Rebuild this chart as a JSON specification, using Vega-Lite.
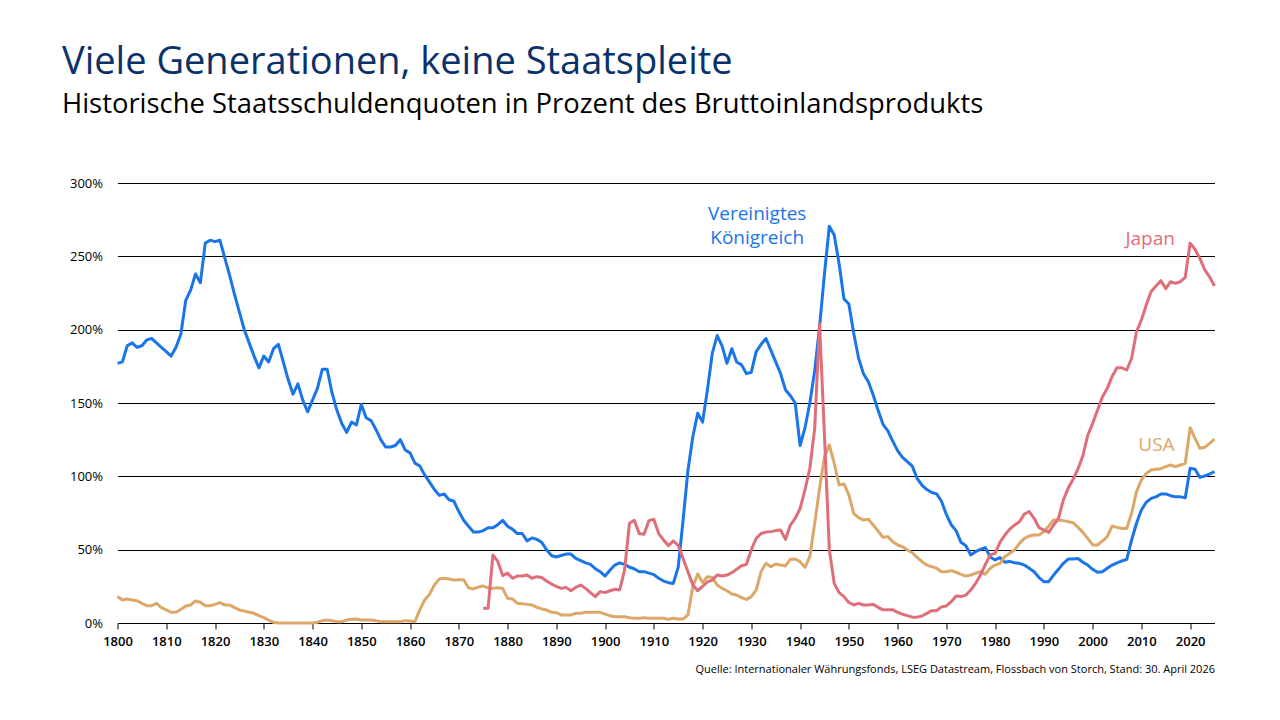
{
  "$schema": "https://vega.github.io/schema/vega-lite/v6.json",
  "autosize": "none",
  "width": 1097,
  "height": 440,
  "padding": {"left": 117.5, "top": 183, "right": 65.5, "bottom": 97},
  "background": "white",
  "title": {
    "text": "Viele Generationen, keine Staatspleite",
    "subtitle": "Historische Staatsschuldenquoten in Prozent des Bruttoinlandsprodukts",
    "anchor": "start",
    "frame": "group",
    "dx": -55.5,
    "offset": 59,
    "font": "Open Sans",
    "fontSize": 38,
    "fontWeight": "normal",
    "color": "#0b316b",
    "subtitleFont": "Open Sans",
    "subtitleFontSize": 27.4,
    "subtitleColor": "#000000",
    "subtitlePadding": 9
  },
  "datasets": {
    "uk": [
      {"year":1800,"value":177},{"year":1801,"value":178},{"year":1802,"value":189},{"year":1803,"value":191},{"year":1804,"value":188},{"year":1805,"value":189},{"year":1806,"value":193},{"year":1807,"value":194},{"year":1808,"value":191},{"year":1809,"value":188},
      {"year":1810,"value":185},{"year":1811,"value":182},{"year":1812,"value":188},{"year":1813,"value":197},{"year":1814,"value":220},{"year":1815,"value":227},{"year":1816,"value":238},{"year":1817,"value":232},{"year":1818,"value":259},{"year":1819,"value":261},
      {"year":1820,"value":260},{"year":1821,"value":261},{"year":1822,"value":249},{"year":1823,"value":237},{"year":1824,"value":224},{"year":1825,"value":212},{"year":1826,"value":200},{"year":1827,"value":191},{"year":1828,"value":182},{"year":1829,"value":174},
      {"year":1830,"value":182},{"year":1831,"value":178},{"year":1832,"value":187},{"year":1833,"value":190},{"year":1834,"value":178},{"year":1835,"value":166},{"year":1836,"value":156},{"year":1837,"value":163},{"year":1838,"value":152},{"year":1839,"value":144},
      {"year":1840,"value":152},{"year":1841,"value":160},{"year":1842,"value":173},{"year":1843,"value":173},{"year":1844,"value":157},{"year":1845,"value":145},{"year":1846,"value":136},{"year":1847,"value":130},{"year":1848,"value":137},{"year":1849,"value":135},
      {"year":1850,"value":149},{"year":1851,"value":140},{"year":1852,"value":138},{"year":1853,"value":132},{"year":1854,"value":125},{"year":1855,"value":120},{"year":1856,"value":120},{"year":1857,"value":121},{"year":1858,"value":125},{"year":1859,"value":118},
      {"year":1860,"value":116},{"year":1861,"value":109},{"year":1862,"value":107},{"year":1863,"value":101},{"year":1864,"value":96},{"year":1865,"value":91},{"year":1866,"value":87},{"year":1867,"value":88},{"year":1868,"value":84},{"year":1869,"value":83},
      {"year":1870,"value":76},{"year":1871,"value":70},{"year":1872,"value":66},{"year":1873,"value":62},{"year":1874,"value":62},{"year":1875,"value":63},{"year":1876,"value":65},{"year":1877,"value":65},{"year":1878,"value":67},{"year":1879,"value":70},
      {"year":1880,"value":66},{"year":1881,"value":64},{"year":1882,"value":61},{"year":1883,"value":61},{"year":1884,"value":56},{"year":1885,"value":58},{"year":1886,"value":57},{"year":1887,"value":55},{"year":1888,"value":50},{"year":1889,"value":46},
      {"year":1890,"value":45},{"year":1891,"value":46},{"year":1892,"value":47},{"year":1893,"value":47},{"year":1894,"value":44},{"year":1895,"value":42.5},{"year":1896,"value":41},{"year":1897,"value":40},{"year":1898,"value":37},{"year":1899,"value":35},
      {"year":1900,"value":32},{"year":1901,"value":36},{"year":1902,"value":39.5},{"year":1903,"value":41},{"year":1904,"value":40},{"year":1905,"value":38},{"year":1906,"value":37},{"year":1907,"value":35},{"year":1908,"value":35},{"year":1909,"value":34},
      {"year":1910,"value":33},{"year":1911,"value":30.5},{"year":1912,"value":28.6},{"year":1913,"value":27.5},{"year":1914,"value":27},{"year":1915,"value":38},{"year":1916,"value":70},{"year":1917,"value":104},{"year":1918,"value":127},{"year":1919,"value":143},
      {"year":1920,"value":137},{"year":1921,"value":159},{"year":1922,"value":184},{"year":1923,"value":196},{"year":1924,"value":189},{"year":1925,"value":177},{"year":1926,"value":187},{"year":1927,"value":178},{"year":1928,"value":176},{"year":1929,"value":170},
      {"year":1930,"value":171},{"year":1931,"value":185},{"year":1932,"value":190},{"year":1933,"value":194},{"year":1934,"value":186},{"year":1935,"value":178},{"year":1936,"value":170},{"year":1937,"value":159},{"year":1938,"value":155},{"year":1939,"value":150},
      {"year":1940,"value":121},{"year":1941,"value":133},{"year":1942,"value":150},{"year":1943,"value":172},{"year":1944,"value":202},{"year":1945,"value":238},{"year":1946,"value":270.5},{"year":1947,"value":264.5},{"year":1948,"value":245},{"year":1949,"value":221},
      {"year":1950,"value":217.5},{"year":1951,"value":197.5},{"year":1952,"value":180.5},{"year":1953,"value":170},{"year":1954,"value":164.5},{"year":1955,"value":155.5},{"year":1956,"value":145},{"year":1957,"value":135.5},{"year":1958,"value":131},{"year":1959,"value":124},
      {"year":1960,"value":117.5},{"year":1961,"value":113},{"year":1962,"value":110},{"year":1963,"value":107},{"year":1964,"value":98.6},{"year":1965,"value":94},{"year":1966,"value":91},{"year":1967,"value":89},{"year":1968,"value":88},{"year":1969,"value":83},
      {"year":1970,"value":74},{"year":1971,"value":67},{"year":1972,"value":63},{"year":1973,"value":55},{"year":1974,"value":52.7},{"year":1975,"value":46.4},{"year":1976,"value":48.6},{"year":1977,"value":50.2},{"year":1978,"value":51.4},{"year":1979,"value":45},
      {"year":1980,"value":43},{"year":1981,"value":44.6},{"year":1982,"value":41.4},{"year":1983,"value":42},{"year":1984,"value":41},{"year":1985,"value":40.7},{"year":1986,"value":39.5},{"year":1987,"value":37.3},{"year":1988,"value":35},{"year":1989,"value":31},
      {"year":1990,"value":28.2},{"year":1991,"value":28.2},{"year":1992,"value":32.7},{"year":1993,"value":36.6},{"year":1994,"value":40.7},{"year":1995,"value":43.6},{"year":1996,"value":43.6},{"year":1997,"value":44},{"year":1998,"value":41.4},{"year":1999,"value":39.5},
      {"year":2000,"value":36.6},{"year":2001,"value":34.6},{"year":2002,"value":35},{"year":2003,"value":37.3},{"year":2004,"value":39.5},{"year":2005,"value":41},{"year":2006,"value":42.3},{"year":2007,"value":43.4},{"year":2008,"value":56.6},{"year":2009,"value":68},
      {"year":2010,"value":77},{"year":2011,"value":82.3},{"year":2012,"value":85},{"year":2013,"value":86},{"year":2014,"value":88},{"year":2015,"value":88},{"year":2016,"value":86.8},{"year":2017,"value":86},{"year":2018,"value":86},{"year":2019,"value":85.4},
      {"year":2020,"value":105.5},{"year":2021,"value":104.8},{"year":2022,"value":99.3},{"year":2023,"value":100.2},{"year":2024,"value":101.6},{"year":2025,"value":103.2}
    ],
    "jp": [
      {"year":1875,"value":10},{"year":1876,"value":10},{"year":1877,"value":46.4},{"year":1878,"value":42},{"year":1879,"value":32.3},
      {"year":1880,"value":34},{"year":1881,"value":30.5},{"year":1882,"value":32},{"year":1883,"value":32},{"year":1884,"value":32.7},{"year":1885,"value":30.5},{"year":1886,"value":31.6},{"year":1887,"value":31},{"year":1888,"value":28.6},{"year":1889,"value":26.6},
      {"year":1890,"value":25},{"year":1891,"value":23.6},{"year":1892,"value":24.3},{"year":1893,"value":22},{"year":1894,"value":24.3},{"year":1895,"value":25.9},{"year":1896,"value":23.6},{"year":1897,"value":20.7},{"year":1898,"value":18},{"year":1899,"value":21.4},
      {"year":1900,"value":20.7},{"year":1901,"value":22},{"year":1902,"value":23},{"year":1903,"value":22.5},{"year":1904,"value":36},{"year":1905,"value":68},{"year":1906,"value":70},{"year":1907,"value":61},{"year":1908,"value":60.5},{"year":1909,"value":69.8},
      {"year":1910,"value":70.7},{"year":1911,"value":61},{"year":1912,"value":56.6},{"year":1913,"value":52.7},{"year":1914,"value":56},{"year":1915,"value":53},{"year":1916,"value":44},{"year":1917,"value":35},{"year":1918,"value":26},{"year":1919,"value":22},
      {"year":1920,"value":25},{"year":1921,"value":28},{"year":1922,"value":29.3},{"year":1923,"value":32.7},{"year":1924,"value":32},{"year":1925,"value":32.7},{"year":1926,"value":34.3},{"year":1927,"value":36.6},{"year":1928,"value":39},{"year":1929,"value":40},
      {"year":1930,"value":50},{"year":1931,"value":57.7},{"year":1932,"value":61},{"year":1933,"value":62},{"year":1934,"value":62.3},{"year":1935,"value":63},{"year":1936,"value":63.4},{"year":1937,"value":57},{"year":1938,"value":66.8},{"year":1939,"value":71.4},
      {"year":1940,"value":78},{"year":1941,"value":90.7},{"year":1942,"value":105.5},{"year":1943,"value":132.7},{"year":1944,"value":204},{"year":1945,"value":128},{"year":1946,"value":50},{"year":1947,"value":27},{"year":1948,"value":20.7},{"year":1949,"value":18},
      {"year":1950,"value":14},{"year":1951,"value":12.3},{"year":1952,"value":13.4},{"year":1953,"value":12.3},{"year":1954,"value":12.3},{"year":1955,"value":12.7},{"year":1956,"value":10.7},{"year":1957,"value":9},{"year":1958,"value":9},{"year":1959,"value":9},
      {"year":1960,"value":7.3},{"year":1961,"value":6.1},{"year":1962,"value":5},{"year":1963,"value":4},{"year":1964,"value":4},{"year":1965,"value":4.8},{"year":1966,"value":6.6},{"year":1967,"value":8.4},{"year":1968,"value":8.4},{"year":1969,"value":11},
      {"year":1970,"value":11.6},{"year":1971,"value":14.5},{"year":1972,"value":18.4},{"year":1973,"value":18},{"year":1974,"value":19},{"year":1975,"value":22.5},{"year":1976,"value":27},{"year":1977,"value":32.7},{"year":1978,"value":40},{"year":1979,"value":46.4},
      {"year":1980,"value":47.5},{"year":1981,"value":55},{"year":1982,"value":60},{"year":1983,"value":64},{"year":1984,"value":66.8},{"year":1985,"value":69},{"year":1986,"value":74.3},{"year":1987,"value":76},{"year":1988,"value":71.4},{"year":1989,"value":65},
      {"year":1990,"value":63.4},{"year":1991,"value":61.8},{"year":1992,"value":66.8},{"year":1993,"value":71.4},{"year":1994,"value":84},{"year":1995,"value":92},{"year":1996,"value":98},{"year":1997,"value":105},{"year":1998,"value":114},{"year":1999,"value":128},
      {"year":2000,"value":136},{"year":2001,"value":145},{"year":2002,"value":154},{"year":2003,"value":160},{"year":2004,"value":168},{"year":2005,"value":174},{"year":2006,"value":174},{"year":2007,"value":172.5},{"year":2008,"value":180.5},{"year":2009,"value":198.6},
      {"year":2010,"value":206.6},{"year":2011,"value":216.8},{"year":2012,"value":226},{"year":2013,"value":229.8},{"year":2014,"value":233.4},{"year":2015,"value":228},{"year":2016,"value":232.7},{"year":2017,"value":231.6},{"year":2018,"value":232.7},{"year":2019,"value":235.7},
      {"year":2020,"value":259},{"year":2021,"value":254.8},{"year":2022,"value":248.6},{"year":2023,"value":240.7},{"year":2024,"value":236},{"year":2025,"value":229.8}
    ],
    "us": [
      {"year":1800,"value":18},{"year":1801,"value":15.7},{"year":1802,"value":16.4},{"year":1803,"value":15.7},{"year":1804,"value":15.2},{"year":1805,"value":13.4},{"year":1806,"value":11.8},{"year":1807,"value":11.8},{"year":1808,"value":13.4},{"year":1809,"value":10.5},
      {"year":1810,"value":8.9},{"year":1811,"value":7.3},{"year":1812,"value":7.3},{"year":1813,"value":9.3},{"year":1814,"value":11.6},{"year":1815,"value":12.3},{"year":1816,"value":15},{"year":1817,"value":14.1},{"year":1818,"value":11.8},{"year":1819,"value":11.8},
      {"year":1820,"value":12.7},{"year":1821,"value":13.9},{"year":1822,"value":12.3},{"year":1823,"value":12.3},{"year":1824,"value":10.5},{"year":1825,"value":8.9},{"year":1826,"value":8.2},{"year":1827,"value":7.3},{"year":1828,"value":6.6},{"year":1829,"value":5},
      {"year":1830,"value":3.6},{"year":1831,"value":2},{"year":1832,"value":0.5},{"year":1833,"value":0},{"year":1834,"value":0},{"year":1835,"value":0},{"year":1836,"value":0},{"year":1837,"value":0},{"year":1838,"value":0},{"year":1839,"value":0},
      {"year":1840,"value":0},{"year":1841,"value":0.5},{"year":1842,"value":1.6},{"year":1843,"value":2},{"year":1844,"value":1.6},{"year":1845,"value":0.9},{"year":1846,"value":0.9},{"year":1847,"value":2},{"year":1848,"value":2.5},{"year":1849,"value":2.7},
      {"year":1850,"value":2},{"year":1851,"value":2},{"year":1852,"value":2},{"year":1853,"value":1.6},{"year":1854,"value":0.9},{"year":1855,"value":0.9},{"year":1856,"value":0.9},{"year":1857,"value":0.9},{"year":1858,"value":0.9},{"year":1859,"value":1.6},
      {"year":1860,"value":1.4},{"year":1861,"value":0.9},{"year":1862,"value":8.9},{"year":1863,"value":15.7},{"year":1864,"value":19.5},{"year":1865,"value":26},{"year":1866,"value":30},{"year":1867,"value":30.5},{"year":1868,"value":30},{"year":1869,"value":29.3},
      {"year":1870,"value":29.5},{"year":1871,"value":29.5},{"year":1872,"value":24},{"year":1873,"value":23.2},{"year":1874,"value":24.5},{"year":1875,"value":25.2},{"year":1876,"value":24},{"year":1877,"value":23.6},{"year":1878,"value":24.1},{"year":1879,"value":23.6},
      {"year":1880,"value":16.8},{"year":1881,"value":16.4},{"year":1882,"value":13.4},{"year":1883,"value":13.2},{"year":1884,"value":12.7},{"year":1885,"value":12.3},{"year":1886,"value":10.7},{"year":1887,"value":9.6},{"year":1888,"value":8.9},{"year":1889,"value":7.3},
      {"year":1890,"value":7},{"year":1891,"value":5.5},{"year":1892,"value":5.5},{"year":1893,"value":5.5},{"year":1894,"value":6.6},{"year":1895,"value":6.6},{"year":1896,"value":7.3},{"year":1897,"value":7.3},{"year":1898,"value":7.3},{"year":1899,"value":7.3},
      {"year":1900,"value":6.1},{"year":1901,"value":5},{"year":1902,"value":4.3},{"year":1903,"value":4.3},{"year":1904,"value":4.3},{"year":1905,"value":3.6},{"year":1906,"value":3.2},{"year":1907,"value":3.2},{"year":1908,"value":3.6},{"year":1909,"value":3.2},
      {"year":1910,"value":3.2},{"year":1911,"value":3.2},{"year":1912,"value":3.2},{"year":1913,"value":2.5},{"year":1914,"value":3.2},{"year":1915,"value":2.7},{"year":1916,"value":2.7},{"year":1917,"value":5.5},{"year":1918,"value":24.8},{"year":1919,"value":33.4},
      {"year":1920,"value":27.7},{"year":1921,"value":31.6},{"year":1922,"value":31},{"year":1923,"value":25.9},{"year":1924,"value":23.6},{"year":1925,"value":22},{"year":1926,"value":19.8},{"year":1927,"value":19.1},{"year":1928,"value":17.3},{"year":1929,"value":16.1},
      {"year":1930,"value":18},{"year":1931,"value":22.5},{"year":1932,"value":35},{"year":1933,"value":40.7},{"year":1934,"value":38.4},{"year":1935,"value":40.2},{"year":1936,"value":39.5},{"year":1937,"value":38.9},{"year":1938,"value":43.4},{"year":1939,"value":43.6},
      {"year":1940,"value":41.8},{"year":1941,"value":38},{"year":1942,"value":45.2},{"year":1943,"value":68},{"year":1944,"value":91.8},{"year":1945,"value":113.4},{"year":1946,"value":121.4},{"year":1947,"value":108.9},{"year":1948,"value":94.1},{"year":1949,"value":94.8},
      {"year":1950,"value":87.3},{"year":1951,"value":74.8},{"year":1952,"value":71.8},{"year":1953,"value":70.2},{"year":1954,"value":70.7},{"year":1955,"value":66.8},{"year":1956,"value":62.7},{"year":1957,"value":58.4},{"year":1958,"value":58.9},{"year":1959,"value":55.4},
      {"year":1960,"value":53.2},{"year":1961,"value":52},{"year":1962,"value":49.8},{"year":1963,"value":47.9},{"year":1964,"value":44.8},{"year":1965,"value":41.8},{"year":1966,"value":39.5},{"year":1967,"value":38.4},{"year":1968,"value":37.3},{"year":1969,"value":35},
      {"year":1970,"value":35},{"year":1971,"value":35.7},{"year":1972,"value":34.6},{"year":1973,"value":33.2},{"year":1974,"value":32},{"year":1975,"value":32.7},{"year":1976,"value":33.9},{"year":1977,"value":35},{"year":1978,"value":33.2},{"year":1979,"value":37.3},
      {"year":1980,"value":39.5},{"year":1981,"value":40.7},{"year":1982,"value":45.2},{"year":1983,"value":47.5},{"year":1984,"value":49.8},{"year":1985,"value":54.3},{"year":1986,"value":57.7},{"year":1987,"value":59.3},{"year":1988,"value":60},{"year":1989,"value":60},
      {"year":1990,"value":62.3},{"year":1991,"value":66.1},{"year":1992,"value":70.2},{"year":1993,"value":70.2},{"year":1994,"value":69.8},{"year":1995,"value":69.1},{"year":1996,"value":68.4},{"year":1997,"value":65.2},{"year":1998,"value":61.8},{"year":1999,"value":57.7},
      {"year":2000,"value":53.2},{"year":2001,"value":53.2},{"year":2002,"value":55.9},{"year":2003,"value":58.9},{"year":2004,"value":66.1},{"year":2005,"value":65.2},{"year":2006,"value":64.5},{"year":2007,"value":64.5},{"year":2008,"value":74.8},{"year":2009,"value":89.5},
      {"year":2010,"value":97.5},{"year":2011,"value":102},{"year":2012,"value":104.3},{"year":2013,"value":104.8},{"year":2014,"value":105.2},{"year":2015,"value":106.6},{"year":2016,"value":107.7},{"year":2017,"value":106.6},{"year":2018,"value":107.7},{"year":2019,"value":108.9},
      {"year":2020,"value":133.2},{"year":2021,"value":125.9},{"year":2022,"value":119.1},{"year":2023,"value":119.8},{"year":2024,"value":122.5},{"year":2025,"value":125.3}
    ],
    "labels": [
      {"country": "Vereinigtes Königreich", "year": 1931.2, "value": 279, "label": "Vereinigtes\nKönigreich"},
      {"country": "Japan", "year": 2011.8, "value": 261.5, "label": "Japan"},
      {"country": "USA", "year": 2013.1, "value": 121.4, "label": "USA"}
    ]
  },
  "encoding": {
    "x": {
      "field": "year", "type": "quantitative",
      "scale": {"domain": [1800, 2025], "nice": false, "zero": false},
      "axis": {
        "title": "Quelle: Internationaler Währungsfonds, LSEG Datastream, Flossbach von Storch, Stand: 30. April 2026",
        "titleAnchor": "end", "titleAlign": "right", "titleFontSize": 11, "titleFontWeight": "normal",
        "titleFont": "Open Sans", "titleColor": "#000000", "titleY": 40, "titleBaseline": "top",
        "values": [1800,1810,1820,1830,1840,1850,1860,1870,1880,1890,1900,1910,1920,1930,1940,1950,1960,1970,1980,1990,2000,2010,2020],
        "format": "d", "labelFont": "Open Sans", "labelFontSize": 13, "labelFontWeight": 600, "labelColor": "#000000",
        "labelPadding": 6, "labelFlush": false, "labelOverlap": false,
        "grid": false, "domainColor": "#000000", "domainWidth": 1, "tickColor": "#000000", "tickSize": 6, "tickWidth": 1
      }
    },
    "y": {
      "field": "value", "type": "quantitative",
      "scale": {"domain": [0, 300], "nice": false},
      "axis": {
        "title": null, "values": [0,50,100,150,200,250,300],
        "labelExpr": "datum.value + '%'", "labelFont": "Open Sans", "labelFontSize": 13, "labelColor": "#000000",
        "labelPadding": 15, "ticks": false, "domain": false,
        "grid": true, "gridColor": "#000000", "gridWidth": 1, "gridOpacity": 1
      }
    },
    "color": {
      "type": "nominal",
      "scale": {"domain": ["Vereinigtes Königreich", "Japan", "USA"], "range": ["#1a75e8", "#df6e79", "#dba869"]},
      "legend": null
    }
  },
  "layer": [
    {
      "data": {"name": "uk"},
      "mark": {"type": "line", "strokeWidth": 3, "strokeJoin": "round"},
      "encoding": {"color": {"datum": "Vereinigtes Königreich", "type": "nominal"}}
    },
    {
      "data": {"name": "us"},
      "mark": {"type": "line", "strokeWidth": 3, "strokeJoin": "round"},
      "encoding": {"color": {"datum": "USA", "type": "nominal"}}
    },
    {
      "data": {"name": "jp"},
      "mark": {"type": "line", "strokeWidth": 3, "strokeJoin": "round"},
      "encoding": {"color": {"datum": "Japan", "type": "nominal"}}
    },
    {
      "data": {"name": "labels"},
      "mark": {"type": "text", "fontSize": 19, "align": "center", "baseline": "middle", "lineBreak": "\n", "lineHeight": 24, "font": "Open Sans"},
      "encoding": {
        "text": {"field": "label"},
        "color": {"field": "country", "type": "nominal"}
      }
    }
  ],
  "resolve": {"scale": {"color": "shared"}},
  "config": {
    "font": "Open Sans",
    "view": {"stroke": null},
    "legend": {"disable": true}
  }
}
